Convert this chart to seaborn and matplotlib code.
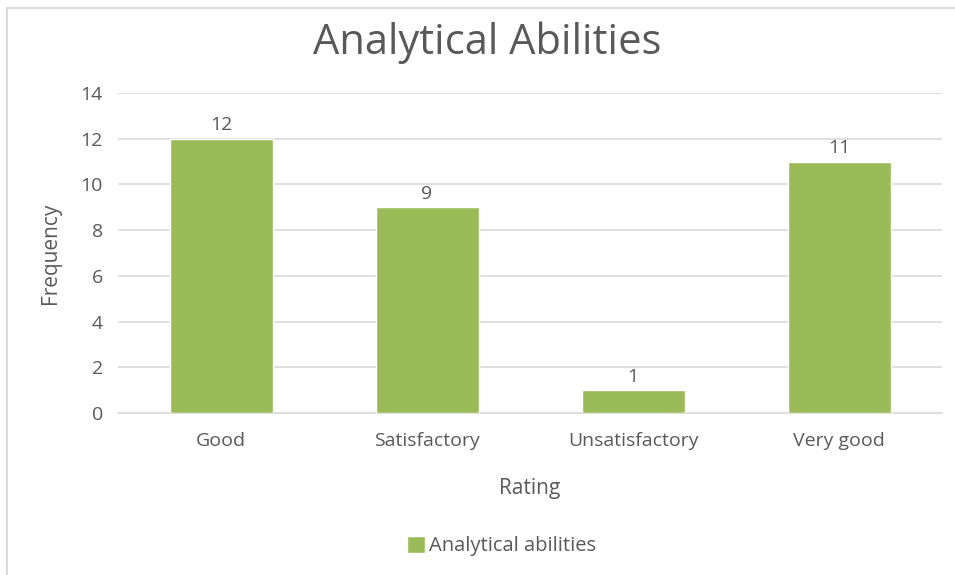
import numpy as np
import pandas as pd
import matplotlib.pyplot as plt
import seaborn as sns
from matplotlib.lines import Line2D
from matplotlib.patches import Patch

# Data
ratings = ['Good', 'Satisfactory', 'Unsatisfactory', 'Very good']
frequency = [12, 9, 1, 11]
series_name = 'Analytical abilities'

df = pd.DataFrame({'Rating': ratings, 'Frequency': frequency})

sns.set_style("white")
plt.rcParams['font.family'] = ['Open Sans', 'DejaVu Sans']

bar_color = '#9bbb59'
text_color = '#595959'
grid_color = '#d9d9d9'

fig = plt.figure(figsize=(9.55, 5.75), dpi=100)
ax = fig.add_axes([0.1236, 0.2817, 0.8628, 0.5566])

sns.barplot(data=df, x='Rating', y='Frequency', color=bar_color,
            width=0.5, saturation=1, ax=ax, zorder=3)

ax.set_ylim(0, 14)
ax.set_yticks(range(0, 15, 2))
ax.set_xlim(-0.5, 3.5)
ax.yaxis.grid(True, color=grid_color, linewidth=1.2, zorder=0)
ax.set_axisbelow(True)
for s in ['top', 'right', 'left']:
    ax.spines[s].set_visible(False)
ax.spines['bottom'].set_color(grid_color)
ax.spines['bottom'].set_linewidth(1.2)
ax.tick_params(axis='both', length=0, labelsize=14, labelcolor=text_color)
ax.tick_params(axis='x', pad=14)
ax.tick_params(axis='y', pad=11)

# value labels
for i, v in enumerate(frequency):
    ax.text(i, v + 0.2, str(v), ha='center', va='bottom', fontsize=14, color=text_color)

ax.set_xlabel('Rating', fontsize=15, color=text_color, labelpad=20)
ax.set_ylabel('Frequency', fontsize=15, color=text_color, labelpad=14)

fig.text(0.51, 0.926, 'Analytical Abilities', ha='center', va='center',
         fontsize=30, color=text_color)

fig.legend(handles=[Patch(facecolor=bar_color, label=series_name)],
           loc='center', bbox_to_anchor=(0.525, 0.05), frameon=False,
           fontsize=14.5, labelcolor=text_color, handlelength=0.9,
           handleheight=0.9, handletextpad=0.2)

# partial outer frame (left and top)
fig.add_artist(Line2D([7 / 955, 7 / 955], [0, 1 - 8 / 575], color='#d9d9d9', lw=1.5))
fig.add_artist(Line2D([7 / 955, 1], [1 - 8 / 575, 1 - 8 / 575], color='#d9d9d9', lw=1.5))

fig.savefig('out.png', dpi=100)
